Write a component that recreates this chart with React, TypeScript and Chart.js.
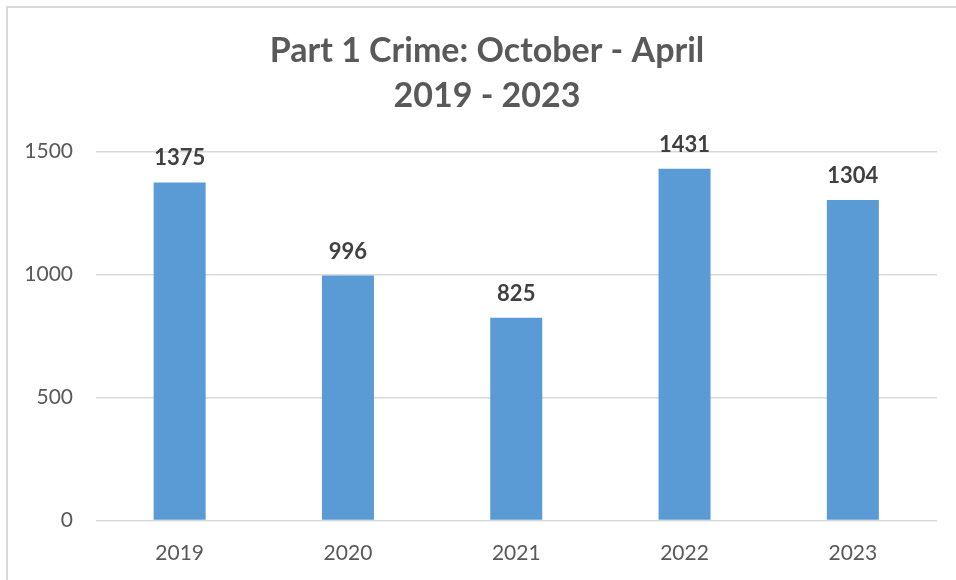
import React, { useEffect, useRef } from "react";
import { Chart, registerables } from "chart.js";

Chart.register(...registerables);

const titleLines = ["Part 1 Crime: October - April", "2019 - 2023"];
const years = ["2019", "2020", "2021", "2022", "2023"];
const crimes = [1375, 996, 825, 1431, 1304];
const yTicks = [0, 500, 1000, 1500];

const FONT = "Lato, 'Open Sans', 'Noto Sans', sans-serif";

const valueLabels = {
  id: "valueLabels",
  afterDatasetsDraw(chart: any) {
    const ctx = chart.ctx;
    const meta = chart.getDatasetMeta(0);
    ctx.save();
    ctx.font = `bold 22px ${FONT}`;
    ctx.fillStyle = "#404040";
    ctx.textAlign = "center";
    ctx.textBaseline = "alphabetic";
    meta.data.forEach((bar: any, i: number) => {
      ctx.fillText(String(crimes[i]), bar.x, bar.y - 17);
    });
    ctx.restore();
  },
};

// Centre the title over the whole chart frame (which extends past the window on the right)
const titleShift = {
  id: "titleShift",
  afterLayout(chart: any) {
    const t = chart.titleBlock;
    if (t) {
      t.left += 17;
    }
  },
};

export default function App() {
  const ref = useRef<HTMLCanvasElement | null>(null);

  useEffect(() => {
    document.body.style.margin = "0";
    document.body.style.overflow = "hidden";
    const canvas = ref.current!;
    const chart = new Chart(canvas, {
      type: "bar",
      data: {
        labels: years,
        datasets: [
          {
            data: crimes,
            backgroundColor: "#5B9BD5",
            borderWidth: 0,
            barPercentage: 0.309,
            categoryPercentage: 1,
          },
        ],
      },
      options: {
        animation: false,
        responsive: false,
        devicePixelRatio: 1,
        layout: { padding: { left: 20, right: 19, top: 0, bottom: 17 } },
        plugins: {
          legend: { display: false },
          tooltip: { enabled: false },
          title: {
            display: true,
            text: titleLines,
            color: "#595959",
            font: { family: FONT, size: 34, weight: "bold", lineHeight: "45px" as any },
            padding: { top: 29, bottom: 32.7 },
          },
        },
        scales: {
          x: {
            grid: { display: false, drawTicks: false },
            border: { display: false },
            afterFit(scale: any) {
              scale.height = 42.5;
            },
            ticks: {
              color: "#595959",
              font: { family: FONT, size: 21 },
              padding: 20.5,
            },
          },
          y: {
            min: 0,
            max: 1500,
            afterBuildTicks(scale: any) {
              scale.ticks = yTicks.map((v) => ({ value: v }));
            },
            afterFit(scale: any) {
              scale.width = 75.5;
            },
            grid: { color: "#d9d9d9", lineWidth: 1.5, drawTicks: false },
            border: { display: false },
            ticks: {
              color: "#595959",
              font: { family: FONT, size: 21 },
              padding: 22.5,
              callback: (v: any) => String(v),
            },
          },
        },
      },
      plugins: [valueLabels, titleShift],
    });
    return () => chart.destroy();
  }, []);

  return (
    <div style={{ position: "fixed", left: 0, top: 0, width: 956, height: 580, overflow: "hidden", background: "#fff" }}>
      <div
        style={{
          position: "absolute",
          left: 6,
          top: 6,
          width: 1000,
          height: 1000,
          borderLeft: "2px solid #d9d9d9",
          borderTop: "2px solid #d9d9d9",
        }}
      />
      <canvas ref={ref} width={956} height={580} style={{ position: "absolute", left: 0, top: 0, display: "block" }} />
    </div>
  );
}
